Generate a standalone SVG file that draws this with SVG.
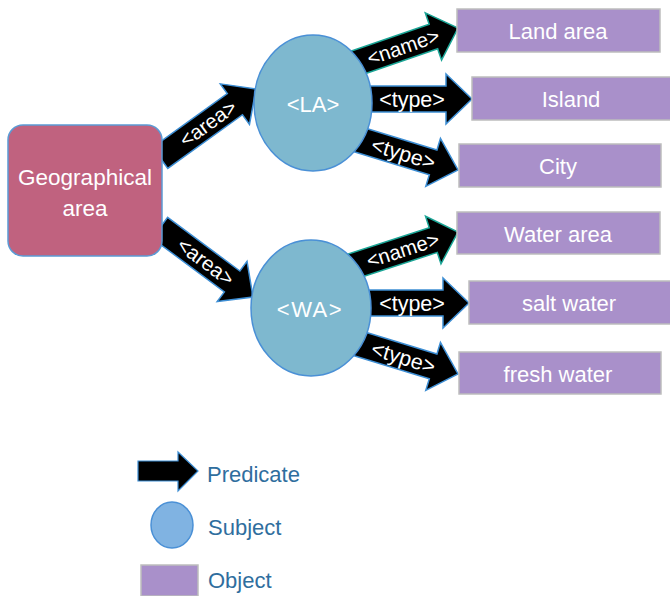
<svg xmlns="http://www.w3.org/2000/svg" width="670" height="596" viewBox="0 0 670 596">
<style>
text{font-family:"Liberation Sans",Arial,sans-serif;}
.arr{fill:#000;stroke:#3D8ED4;stroke-width:1.5;stroke-linejoin:miter;}
.arr.nm{stroke:#1AA596;}
.al{fill:#fff;font-size:20.5px;text-anchor:middle;}
.at{fill:#fff;font-size:21.5px;text-anchor:middle;}
.subj{fill:#7EB8CF;stroke:#4A90D6;stroke-width:1.5;}
.obj{fill:#A990CA;stroke:#BDBDBD;stroke-width:1.5;}
.ot{fill:#fff;font-size:22px;text-anchor:middle;}
.lg{fill:#2F6E9E;font-size:22px;}
</style>
<g id="connectors">
  <g transform="translate(256,89) rotate(-35.7)">
    <path class="arr" d="M-118,-13 L-26,-13 L-26,-25 L0,0 L-26,25 L-26,13 L-118,13 Z"/>
    <text class="al" x="-59" y="7">&lt;area&gt;</text>
  </g>
  <g transform="translate(253,297) rotate(36.6)">
    <path class="arr" d="M-116,-13 L-26,-13 L-26,-25 L0,0 L-26,25 L-26,13 L-116,13 Z"/>
    <text class="al" x="-59" y="7">&lt;area&gt;</text>
  </g>
  <g transform="translate(458,28) rotate(-19)">
    <path class="arr nm" d="M-122,-13 L-26,-13 L-26,-25 L0,0 L-26,25 L-26,13 L-122,13 Z"/>
    <text class="al" x="-58" y="7">&lt;name&gt;</text>
  </g>
  <g transform="translate(472,99)">
    <path class="arr" d="M-115,-13 L-26,-13 L-26,-25 L0,0 L-26,25 L-26,13 L-115,13 Z"/>
    <text class="at" x="-60" y="7.5">&lt;type&gt;</text>
  </g>
  <g transform="translate(458,170) rotate(17)">
    <path class="arr" d="M-115,-13 L-26,-13 L-26,-25 L0,0 L-26,25 L-26,13 L-115,13 Z"/>
    <text class="at" x="-57" y="7.5">&lt;type&gt;</text>
  </g>
  <g transform="translate(458,232) rotate(-18)">
    <path class="arr nm" d="M-120,-13 L-26,-13 L-26,-25 L0,0 L-26,25 L-26,13 L-120,13 Z"/>
    <text class="al" x="-58" y="7">&lt;name&gt;</text>
  </g>
  <g transform="translate(469,303)">
    <path class="arr" d="M-115,-13 L-26,-13 L-26,-25 L0,0 L-26,25 L-26,13 L-115,13 Z"/>
    <text class="at" x="-57" y="7.5">&lt;type&gt;</text>
  </g>
  <g transform="translate(458,374) rotate(17)">
    <path class="arr" d="M-115,-13 L-26,-13 L-26,-25 L0,0 L-26,25 L-26,13 L-115,13 Z"/>
    <text class="at" x="-57" y="7.5">&lt;type&gt;</text>
  </g>
</g>
<g id="geo">
  <rect x="8" y="125" width="154" height="131" rx="15" fill="#C0627F" stroke="#5B9BD5" stroke-width="1.5"/>
  <text x="85" y="185" fill="#fff" font-size="22.5" text-anchor="middle">Geographical</text>
  <text x="85" y="216" fill="#fff" font-size="22.5" text-anchor="middle">area</text>
</g>
<g id="LA">
  <ellipse class="subj" cx="313" cy="103" rx="59" ry="68"/>
  <text x="313" y="112" fill="#fff" font-size="22" text-anchor="middle">&lt;LA&gt;</text>
</g>
<g id="WA">
  <ellipse class="subj" cx="311" cy="308" rx="60" ry="68"/>
  <text x="310" y="317" fill="#fff" font-size="22" text-anchor="middle" letter-spacing="1.5">&lt;WA&gt;</text>
</g>
<g id="landarea">
  <rect class="obj" x="457" y="9" width="203" height="43"/>
  <text class="ot" x="558" y="39">Land area</text>
</g>
<g id="island">
  <rect class="obj" x="472" y="77" width="200" height="43"/>
  <text class="ot" x="571" y="107">Island</text>
</g>
<g id="city">
  <rect class="obj" x="459" y="144" width="202" height="43"/>
  <text class="ot" x="558" y="174">City</text>
</g>
<g id="waterarea">
  <rect class="obj" x="457" y="212" width="203" height="42"/>
  <text class="ot" x="558" y="242">Water area</text>
</g>
<g id="saltwater">
  <rect class="obj" x="469" y="281" width="203" height="43"/>
  <text class="ot" x="569" y="311">salt water</text>
</g>
<g id="freshwater">
  <rect class="obj" x="459" y="352" width="202" height="42"/>
  <text class="ot" x="558" y="382">fresh water</text>
</g>
<g id="legend-predicate">
  <path d="M138,461 L178,461 L178,452 L198,471 L178,491 L178,481 L138,481 Z" fill="#000" stroke="#3D8ED4" stroke-width="1.2"/>
  <text class="lg" x="207" y="482">Predicate</text>
</g>
<g id="legend-subject">
  <ellipse cx="172" cy="525" rx="21" ry="23" fill="#80B3E2" stroke="#4A90D6" stroke-width="1.5"/>
  <text class="lg" x="208" y="535">Subject</text>
</g>
<g id="legend-object">
  <rect x="141" y="565" width="57" height="31" fill="#A990CA" stroke="#BDBDBD" stroke-width="1.5"/>
  <text class="lg" x="208" y="588">Object</text>
</g>
</svg>
